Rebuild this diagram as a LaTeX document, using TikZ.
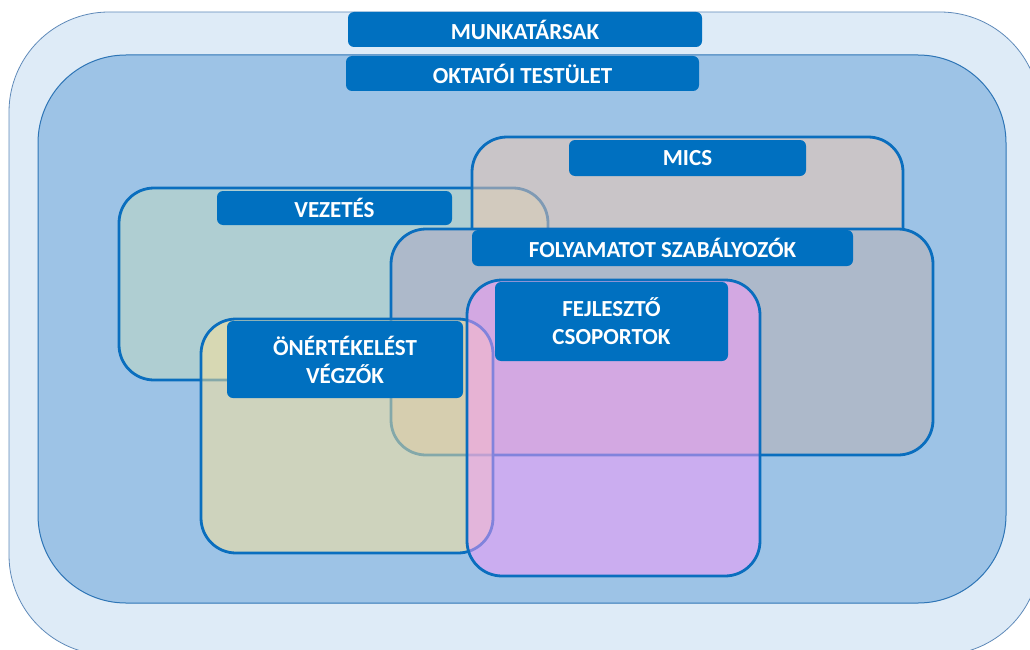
\documentclass[tikz,border=0pt]{standalone}
\usepackage{fontspec}
\setmainfont{Carlito}
\definecolor{outerfill}{RGB}{222,235,247}
\definecolor{outerline}{RGB}{95,138,185}
\definecolor{innerfill}{RGB}{157,195,230}
\definecolor{innerline}{RGB}{46,117,182}
\definecolor{lblfill}{RGB}{0,112,192}
\definecolor{boxline}{RGB}{10,110,190}
\definecolor{vezfill}{RGB}{175,206,210}
\definecolor{micsfill}{RGB}{245,199,172}
\definecolor{folyfill}{RGB}{173,185,202}
\definecolor{onfill}{RGB}{255,227,150}
\definecolor{fejfill}{RGB}{249,153,250}
\tikzset{
  lbl/.style={rectangle, rounded corners=6pt, fill=lblfill, text=white,
    font=\bfseries\fontsize{23}{28}\selectfont, align=center, inner sep=0pt},
  grp/.style={rectangle, rounded corners=35pt, draw=boxline, line width=2.8pt, inner sep=0pt},
  seethru/.style={fill opacity=0.5, draw opacity=1}
}
\begin{document}
\begin{tikzpicture}[x=1pt,y=-1pt]
\useasboundingbox (0,0) rectangle (1030,650);
\clip (0,0) rectangle (1030,650);
% outer and inner frames
\node[rectangle, rounded corners=100pt, fill=outerfill, draw=outerline, line width=0.8pt,
      minimum width=1031pt, minimum height=643pt, inner sep=0pt] (outer) at (524.5,333.5) {};
\node[lbl, minimum width=354pt, minimum height=35pt] (munk) at (525,29.5) {MUNKATÁRSAK};
\node[rectangle, rounded corners=88pt, fill=innerfill, draw=innerline, line width=1pt,
      minimum width=968pt, minimum height=548pt, inner sep=0pt] (inner) at (522,329) {};
\node[lbl, minimum width=353pt, minimum height=35pt] (okt) at (522.5,73.5) {OKTATÓI TESTÜLET};
% VEZETÉS
\node[grp, fill=vezfill, minimum width=429pt, minimum height=192pt] (vez) at (333.5,284) {};
\node[lbl, minimum width=235pt, minimum height=34pt] (vezl) at (334.5,208) {VEZETÉS};
% MICS
\node[grp, seethru, fill=micsfill, minimum width=431pt, minimum height=193pt] (mics) at (687.5,233.5) {};
\node[lbl, minimum width=237pt, minimum height=36pt] (micsl) at (687.5,158) {MICS};
% FOLYAMATOT SZABÁLYOZÓK
\node[grp, fill=folyfill, minimum width=542pt, minimum height=226pt] (foly) at (662,342) {};
\node[lbl, minimum width=381pt, minimum height=36pt] (folyl) at (662.5,248) {FOLYAMATOT SZABÁLYOZÓK};
% ÖNÉRTÉKELÉST VÉGZŐK
\node[grp, seethru, fill=onfill, minimum width=292pt, minimum height=234pt] (on) at (347,436) {};
\node[lbl, minimum width=236pt, minimum height=77pt] (onl) at (345,359.5) {ÖNÉRTÉKELÉST\\VÉGZŐK};
% FEJLESZTŐ CSOPORTOK
\node[grp, seethru, fill=fejfill, minimum width=293pt, minimum height=296pt] (fej) at (613.5,428) {};
\node[lbl, minimum width=233pt, minimum height=79pt] (fejl) at (611.5,321.5) {FEJLESZTŐ\\CSOPORTOK};
\end{tikzpicture}
\end{document}
